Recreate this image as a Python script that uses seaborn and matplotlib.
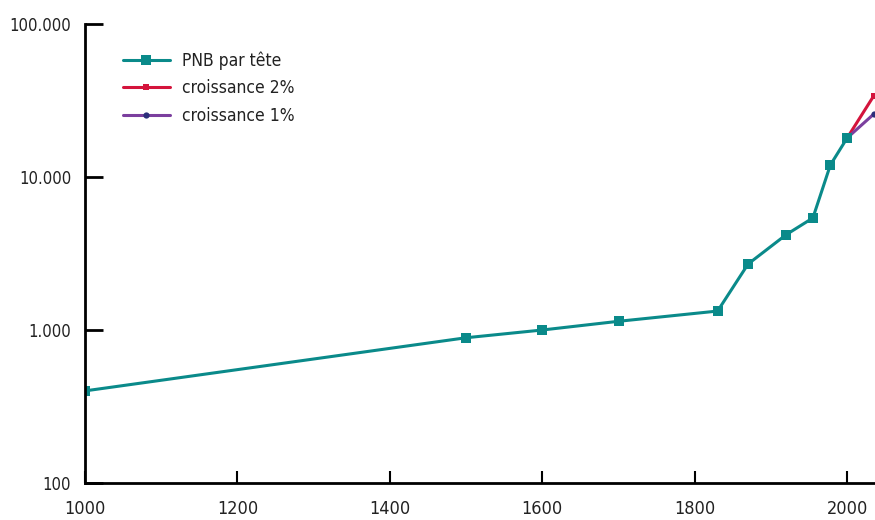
import matplotlib
matplotlib.use("Agg")
import matplotlib.pyplot as plt
import matplotlib.ticker as mticker
import seaborn as sns

years = [1000, 1500, 1600, 1700, 1830, 1870, 1920, 1955, 1978, 2000]
pnb = [400, 890, 1000, 1140, 1330, 2700, 4200, 5400, 12000, 18000]
years_proj = [2000, 2035]
growth2 = [18000, 34000]
growth1 = [18000, 25800]
xticks = [1000, 1200, 1400, 1600, 1800, 2000]
yticks = [100, 1000, 10000, 100000]
ytick_labels = ["100", "1.000", "10.000", "100.000"]

sns.set_theme(style="white")
plt.rcParams['font.family'] = ['Liberation Sans Narrow', 'DejaVu Sans']
plt.rcParams['font.stretch'] = 'condensed'

fig = plt.figure(figsize=(8.75, 5.2), dpi=100)
ax = fig.add_axes([85/875, 1-483/520, 1-85/875, (483-24)/520])

teal = "#0a8a8a"
red = "#d4143c"
purple = "#7b3f9e"

sns.lineplot(x=years, y=pnb, ax=ax, color=teal, lw=2.2, marker="s",
             markersize=7, markeredgewidth=0, label="PNB par tête")
sns.lineplot(x=years_proj, y=growth2, ax=ax, color=red, lw=2.2, marker="s",
             markersize=4.5, markeredgewidth=0, label="croissance 2%", zorder=1)
sns.lineplot(x=years_proj, y=growth1, ax=ax, color=purple, lw=2.2, marker="o",
             markersize=4.5, markerfacecolor="#2b2f7a", markeredgewidth=0,
             label="croissance 1%", zorder=1)

ax.set_yscale("log")
ax.set_ylim(100, 100000)
ax.set_xlim(1000, 2036.5)
ax.set_yticks(yticks)
ax.yaxis.set_major_formatter(mticker.FixedFormatter(ytick_labels))
ax.yaxis.set_minor_locator(mticker.NullLocator())
ax.set_xticks(xticks)
ax.set_xticklabels([str(x) for x in xticks])

for s in ["top", "right"]:
    ax.spines[s].set_visible(False)
for s in ["left", "bottom"]:
    ax.spines[s].set_color("black")
    ax.spines[s].set_linewidth(2)

ax.tick_params(axis="y", direction="in", length=13, width=2, color="black",
               pad=10, labelsize=12, labelcolor="#222222", left=True)
ax.tick_params(axis="x", direction="in", length=9, width=1.5, color="black",
               pad=12, labelsize=13, labelcolor="#222222", bottom=True)
ax.set_xlabel("")
ax.set_ylabel("")
ax.grid(False)

leg = ax.legend(loc="upper left", bbox_to_anchor=(0.028, 0.975), frameon=False,
                fontsize=12.5, handlelength=2.7, handletextpad=0.7,
                labelspacing=0.55, labelcolor="#222222")

fig.savefig("out.png", dpi=100)
